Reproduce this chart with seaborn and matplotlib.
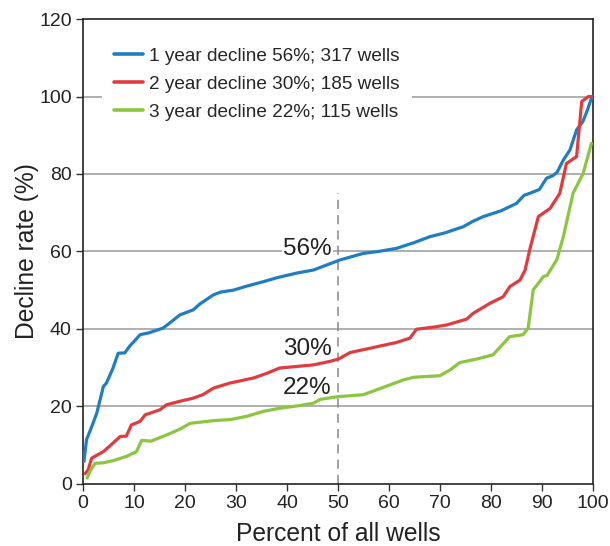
import numpy as np
import pandas as pd
import seaborn as sns
import matplotlib.pyplot as plt

x_1yr = [0.2, 0.7, 1.5, 2.7, 4.0, 4.6, 5.9, 6.9, 8.2, 9.2, 10.2, 11.2, 13, 15.7, 17, 19, 21.6, 23, 25.6, 27,
         29.5, 32, 35.4, 38, 41.9, 45.2, 48.4, 50.4, 55, 58, 61.5, 65, 68, 71, 74.6, 76.5, 78.5, 82, 85, 86.5,
         87.6, 89.5, 90.9, 92.2, 93, 94.2, 95.5, 96.8, 98, 98.8, 99.7, 100]
y_1yr = [5.8, 11.4, 14, 18.2, 25.1, 26, 29.9, 33.7, 33.8, 35.6, 37, 38.5, 39, 40.2, 41.5, 43.6, 44.9, 46.5, 48.8, 49.5,
         50, 51, 52.2, 53.2, 54.4, 55.2, 56.8, 57.8, 59.5, 60, 60.8, 62.3, 63.8, 64.8, 66.4, 67.8, 69, 70.5, 72.4, 74.5,
         75, 76, 78.9, 79.6, 80.5, 83.6, 86.2, 91.4, 93.5, 96.1, 99.5, 100]

x_2yr = [0.4, 1.0, 1.7, 4, 5.3, 7.3, 8.5, 9.5, 11.2, 12.2, 15.1, 16.4, 19, 21.6, 23.5, 25.6, 28.8, 33.4, 36, 38.6,
         42, 45.2, 48.4, 50.1, 52.4, 56.3, 61.5, 64.1, 65.4, 69, 71.3, 75.2, 76.5, 79.8, 82.4, 83.7, 85.7, 86.7,
         87.6, 89.3, 91.6, 93.5, 94.8, 96.8, 97.8, 99.1, 100]
y_2yr = [2.6, 3.5, 6.6, 8.3, 9.8, 12.2, 12.3, 15.2, 16.1, 17.8, 19.1, 20.4, 21.3, 22.1, 23, 24.7, 26, 27.3, 28.5, 29.9,
         30.3, 30.7, 31.6, 32.2, 33.9, 35, 36.5, 37.6, 39.9, 40.5, 41, 42.5, 44, 46.6, 48.3, 50.9, 52.6, 55.2,
         60.4, 69, 71.1, 75, 82.7, 84.5, 98.7, 100, 100]

x_3yr = [0.8, 1.5, 2.4, 4, 6, 8.6, 10.5, 11.5, 13.3, 16.4, 19, 21, 25.6, 29, 32.1, 35.4, 38.6, 42, 45.2, 46.5,
         50.1, 55, 58.9, 62.8, 64.8, 70, 72, 73.9, 77.2, 80.4, 81.8, 83.7, 86.3, 87.3, 88.3, 90.3, 91, 92.9,
         94.2, 96.1, 98.1, 99.7]
y_3yr = [1.5, 3.5, 5.3, 5.4, 6.0, 7.1, 8.3, 11.2, 11.0, 12.6, 14.1, 15.6, 16.3, 16.6, 17.4, 18.7, 19.5, 20.1, 20.8, 21.8,
         22.5, 23, 24.9, 26.8, 27.5, 27.9, 29.4, 31.3, 32.2, 33.3, 35.3, 38, 38.5, 40.2, 50.1, 53.5, 53.8, 57.8,
         63.8, 75, 80.2, 87.9]

series_names = ["1 year decline 56%; 317 wells",
                "2 year decline 30%; 185 wells",
                "3 year decline 22%; 115 wells"]
median_labels = ["56%", "30%", "22%"]
median_x = 50
median_line_top = 75

colors = ["#1f7dc2", "#e23b3f", "#8cc540"]

df = pd.concat([
    pd.DataFrame({"pct": x_1yr, "rate": y_1yr, "series": series_names[0]}),
    pd.DataFrame({"pct": x_2yr, "rate": y_2yr, "series": series_names[1]}),
    pd.DataFrame({"pct": x_3yr, "rate": y_3yr, "series": series_names[2]}),
], ignore_index=True)

sns.set_style("ticks")
plt.rcParams['font.family'] = ['Liberation Sans', 'DejaVu Sans']

fig = plt.figure(figsize=(6.1, 5.46), dpi=100)
ax = fig.add_axes([0.136, 0.114, 0.836, 0.851])

for y in [20, 40, 60, 80, 100]:
    ax.axhline(y, color="#9a9a9a", lw=1.1, zorder=0)

ax.vlines(median_x, 0, median_line_top, colors="#888888", linestyles=(0, (6, 4)), lw=1.1, zorder=1)

sns.lineplot(data=df, x="pct", y="rate", hue="series", palette=colors, lw=2.3,
             estimator=None, ax=ax, zorder=3)

# median labels
for lab, yy in zip(median_labels, [60.6, 34.8, 24.8]):
    ax.text(48.8, yy, lab, ha="right", va="center", fontsize=17.5, color="#222222", zorder=2,
            bbox=dict(facecolor="white", edgecolor="none", pad=0.5))

ax.set_xlim(0, 100)
ax.set_ylim(0, 120)
ax.set_xticks(np.arange(0, 101, 10))
ax.set_yticks(np.arange(0, 121, 20))
ax.tick_params(axis="both", direction="out", length=5, width=1, pad=3, labelsize=14,
               colors="#333333", labelcolor="#222222")
for sp in ax.spines.values():
    sp.set_color("#222222")
    sp.set_linewidth(1.2)

ax.set_xlabel("Percent of all wells", fontsize=17.7, color="#222222", labelpad=7)
ax.set_ylabel("Decline rate (%)", fontsize=17.7, color="#222222", labelpad=0.5)

leg = ax.legend(loc="upper left", bbox_to_anchor=(0.037, 0.965), borderaxespad=0, fontsize=13.7,
                frameon=True, handlelength=1.5, handletextpad=0.35, labelspacing=0.56, borderpad=0.65)
leg.get_frame().set_facecolor("white")
leg.get_frame().set_edgecolor("none")
leg.get_frame().set_alpha(1)
leg.get_frame().set_boxstyle("square", pad=0)
leg.set_zorder(5)
for line in leg.get_lines():
    line.set_linewidth(2.6)

plt.savefig("out.png", dpi=100)
